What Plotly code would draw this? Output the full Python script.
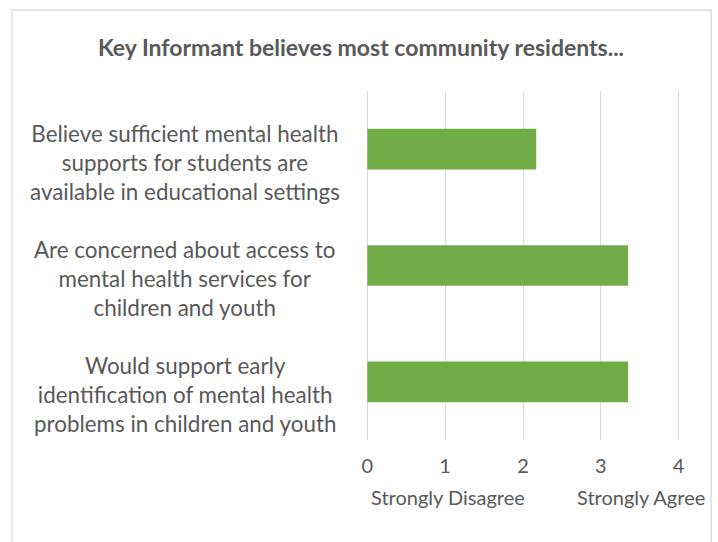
import plotly.graph_objects as go

# Survey statements (top to bottom) and mean agreement scores (0-4 scale)
statements = [
    "Believe sufficient mental health<br>supports for students are<br>available in educational settings",
    "Are concerned about access to<br>mental health services for<br>children and youth",
    "Would support early<br>identification of mental health<br>problems in children and youth",
]
scores = [2.17, 3.35, 3.35]
tick_values = [0, 1, 2, 3, 4]
tick_labels = ["0", "1", "2", "3", "4"]
scale_ends = [(1.03, "Strongly Disagree"), (3.51, "Strongly Agree")]
title_text = "Key Informant believes most community residents..."

TEXT = "#595959"
GRID = "#D9D9D9"
BAR = "#70AD47"
FONT = "Lato"

W, H = 718, 542
UNIT = 78.0          # pixels per scale point
PAD = 0.03           # small range padding so the edge gridlines stay visible
X0_PX, X4_PX = 367, 679
ML = X0_PX - PAD * UNIT
MR = W - (X4_PX + PAD * UNIT)
MT, MB = 91, 102
PW, PH = W - ML - MR, H - MT - MB

def px_x(px):
    return (px - ML) / PW

def px_y(py):
    return (H - MB - py) / PH

fig = go.Figure(
    go.Bar(
        x=scores,
        y=list(range(len(statements))),
        orientation="h",
        width=0.35,
        marker=dict(color=BAR, line=dict(width=0)),
        hoverinfo="x",
    )
)

annotations = []
for i, s in enumerate(statements):
    annotations.append(dict(
        x=px_x(184), xref="paper", xanchor="center",
        y=i, yref="y", yanchor="middle", yshift=-13,
        text=s, showarrow=False, align="center",
        font=dict(family=FONT, size=22.4, color=TEXT),
    ))
for xv, label in scale_ends:
    annotations.append(dict(
        x=xv, xref="x", xanchor="center",
        y=px_y(497), yref="paper", yanchor="middle",
        text=label, showarrow=False,
        font=dict(family=FONT, size=20, color=TEXT),
    ))

fig.update_layout(
    width=W, height=H,
    margin=dict(l=ML, r=MR, t=MT, b=MB),
    paper_bgcolor="white", plot_bgcolor="white",
    showlegend=False,
    title=dict(
        text="<b>" + title_text + "</b>",
        xref="container", x=361 / W, xanchor="center",
        yref="container", y=1 - 48 / H, yanchor="middle",
        font=dict(family=FONT, size=23, color=TEXT),
    ),
    xaxis=dict(
        range=[-PAD, 4 + PAD], tickvals=tick_values, ticktext=tick_labels,
        showgrid=True, gridcolor=GRID, gridwidth=1.3,
        zeroline=True, zerolinecolor=GRID, zerolinewidth=1.3,
        showline=False, ticks="",
        ticklabelstandoff=12,
        tickfont=dict(family=FONT, size=20, color=TEXT),
    ),
    yaxis=dict(
        range=[2.5, -0.5], showticklabels=False, showgrid=False,
        zeroline=False, showline=False, ticks="",
    ),
    annotations=annotations,
    shapes=[dict(
        type="rect", xref="paper", yref="paper",
        x0=px_x(11), x1=px_x(711.5), y0=px_y(560), y1=px_y(10),
        line=dict(color=GRID, width=1.3), fillcolor="rgba(0,0,0,0)",
        layer="below",
    )],
)

fig.write_html("out.html")
